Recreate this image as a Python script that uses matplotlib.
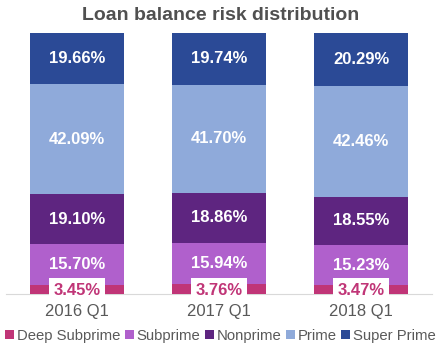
import matplotlib.pyplot as plt
import numpy as np

plt.rcParams['font.family'] = ['Liberation Sans', 'DejaVu Sans']

quarters = ['2016 Q1', '2017 Q1', '2018 Q1']
categories = ['Deep Subprime', 'Subprime', 'Nonprime', 'Prime', 'Super Prime']
deep_subprime = [3.45, 3.76, 3.47]
subprime = [15.70, 15.94, 15.23]
nonprime = [19.10, 18.86, 18.55]
prime = [42.09, 41.70, 42.46]
super_prime = [19.66, 19.74, 20.29]

series = [deep_subprime, subprime, nonprime, prime, super_prime]
colors = ['#C03577', '#B060CC', '#5E2580', '#8FAADA', '#2B4A96']

fig = plt.figure(figsize=(4.41, 3.58), dpi=100)
ax = fig.add_axes([6 / 441, 64 / 358, 426 / 441, 261 / 358])

x = np.arange(len(quarters))
bottom = np.zeros(len(quarters))
for k, (vals, col, name) in enumerate(zip(series, colors, categories)):
    vals = np.array(vals)
    ax.bar(x, vals, bottom=bottom, width=0.66, color=col, label=name, zorder=2)
    for xi, b, v in zip(x, bottom, vals):
        if k == 0:
            # small segment: label in a white box
            ax.text(xi, 1.5, f'{v:.2f}%', ha='center', va='center',
                    fontsize=12, fontweight='bold', color='#C03577', zorder=4,
                    bbox=dict(boxstyle='square,pad=0.25', facecolor='white',
                              edgecolor='none'))
        else:
            ax.text(xi, b + v / 2, f'{v:.2f}%', ha='center', va='center',
                    fontsize=12, fontweight='bold', color='white', zorder=3)
    bottom += vals

ax.set_xlim(-0.5, 2.5)
ax.set_ylim(0, 100)
ax.set_yticks([])
ax.set_xticks(x)
ax.set_xticklabels(quarters, fontsize=12, color='#595959')
ax.tick_params(axis='x', length=0, pad=7)
for s in ['top', 'right', 'left']:
    ax.spines[s].set_visible(False)
ax.spines['bottom'].set_color('#D9D9D9')
ax.spines['bottom'].set_zorder(1)

fig.text(0.5, 1 - 15 / 358, 'Loan balance risk distribution', ha='center',
         va='center', fontsize=14, fontweight='bold', color='#505050')

fig.legend(loc='center', bbox_to_anchor=(0.5, 1 - 336 / 358), ncol=5,
           frameon=False, fontsize=10.7, handlelength=0.6, handleheight=0.6,
           handletextpad=0.2, columnspacing=0.3, labelcolor='#595959')

fig.savefig('out.png', dpi=100)
